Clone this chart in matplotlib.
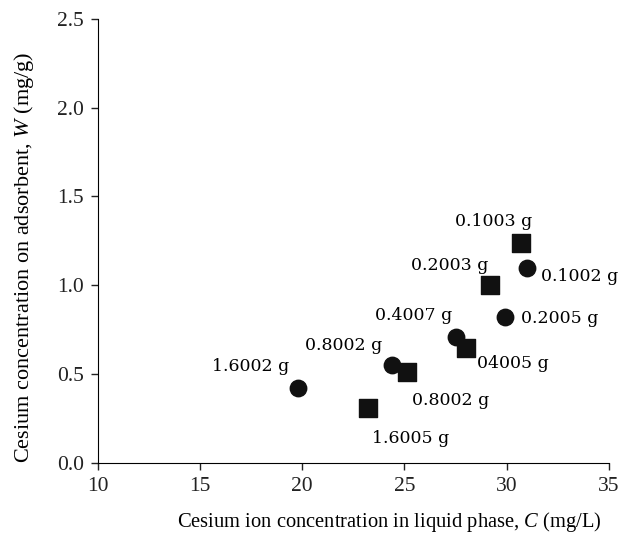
import matplotlib
matplotlib.use("Agg")
import matplotlib.pyplot as plt

plt.rcParams['font.family'] = 'Liberation Serif'
plt.rcParams['mathtext.fontset'] = 'custom'
plt.rcParams['mathtext.rm'] = 'Liberation Serif'
plt.rcParams['mathtext.it'] = 'Liberation Serif:italic'

# circles
circle_x = [19.8, 24.4, 27.5, 29.9, 31.0]
circle_y = [0.42, 0.55, 0.71, 0.82, 1.10]
circle_labels = ['1.6002 g', '0.8002 g', '0.4007 g', '0.2005 g', '0.1002 g']

# squares
square_x = [23.2, 25.1, 28.0, 29.2, 30.7]
square_y = [0.31, 0.51, 0.65, 1.00, 1.24]
square_labels = ['1.6005 g', '0.8002 g', '04005 g', '0.2003 g', '0.1003 g']

# label offsets in points (dx, dy), text centred
circle_offsets = [(-34, 15.5), (-35, 14.5), (-30, 15.5), (40, -1), (38, -6.5)]
square_offsets = [(31, -22), (32, -20.5), (34, -11.5), (-29, 14.5), (-20, 15.5)]

fig = plt.figure(figsize=(6.2, 5.36), dpi=100)
ax = fig.add_axes([0.158, 0.136, 0.824, 0.829])

ax.scatter(circle_x, circle_y, marker='o', s=140, color='#111111', zorder=3)
ax.scatter(square_x, square_y, marker='s', s=150, color='#111111', zorder=3)

for x, y, t, (dx, dy) in zip(circle_x, circle_y, circle_labels, circle_offsets):
    ax.annotate(t, (x, y), xytext=(dx, dy), textcoords='offset points',
                ha='center', va='center', fontsize=12.5, family='DejaVu Serif')
for x, y, t, (dx, dy) in zip(square_x, square_y, square_labels, square_offsets):
    ax.annotate(t, (x, y), xytext=(dx, dy), textcoords='offset points',
                ha='center', va='center', fontsize=12.5, family='DejaVu Serif')

ax.set_xlim(10, 35)
ax.set_ylim(0, 2.5)
ax.set_xticks([10, 15, 20, 25, 30, 35])
ax.set_yticks([0.0, 0.5, 1.0, 1.5, 2.0, 2.5])
ax.set_yticklabels(['0.0', '0.5', '1.0', '1.5', '2.0', '2.5'])
ax.spines['top'].set_visible(False)
ax.spines['right'].set_visible(False)
ax.tick_params(direction='out', length=5, width=1, labelsize=15.5, colors='#222222', pad=5)
ax.set_xlabel(r'Cesium ion concentration in liquid phase, $C$ (mg/L)', fontsize=14.8, va='center')
ax.set_ylabel(r'Cesium concentration on adsorbent, $W$ (mg/g)', fontsize=16, va='center')
ax.xaxis.set_label_coords(0.571, -0.133)
ax.yaxis.set_label_coords(-0.145, 0.464)

fig.savefig('out.png', dpi=100)
